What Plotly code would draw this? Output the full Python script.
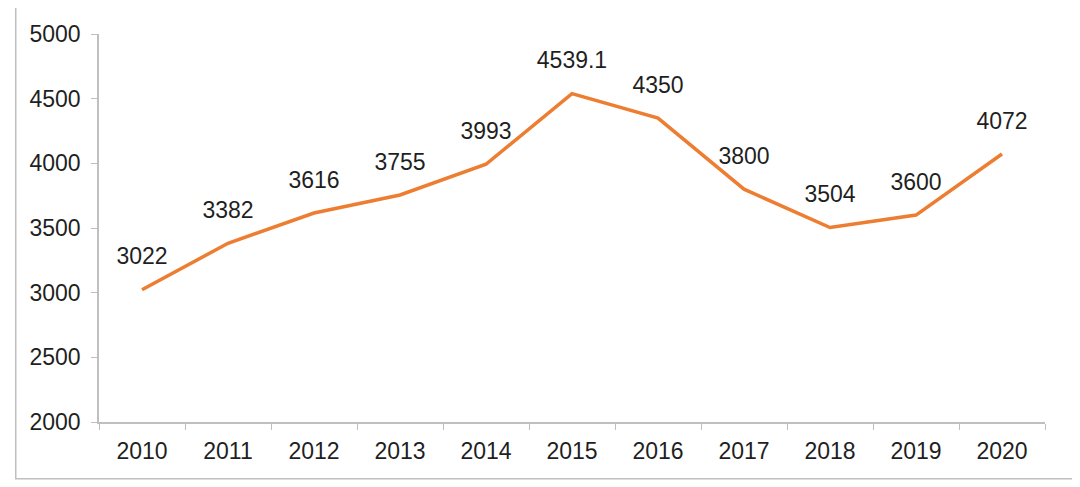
import plotly.graph_objects as go

years = ['2010', '2011', '2012', '2013', '2014', '2015', '2016', '2017', '2018', '2019', '2020']
values = [3022, 3382, 3616, 3755, 3993, 4539.1, 4350, 3800, 3504, 3600, 4072]
labels = ['3022', '3382', '3616', '3755', '3993', '4539.1', '4350', '3800', '3504', '3600', '4072']

fnt = dict(family='Liberation Sans, Arial, sans-serif', size=23, color='#1f1f1f')

fig = go.Figure()
fig.add_trace(go.Scatter(x=years, y=values, mode='lines',
                         line=dict(color='#ED7D31', width=3.5),
                         hoverinfo='x+y'))
# data labels above each point (invisible marker pushes the text up)
fig.add_trace(go.Scatter(x=years, y=values, mode='markers+text',
                         text=labels, textposition='top center',
                         textfont=fnt, cliponaxis=False,
                         marker=dict(size=30, color='rgba(0,0,0,0)'),
                         hoverinfo='skip'))

fig.update_layout(
    width=1080, height=487,
    margin=dict(l=91, r=43, t=26, b=73),
    plot_bgcolor='white', paper_bgcolor='white',
    showlegend=False,
    xaxis=dict(type='category', tickson='boundaries', ticks='outside',
               ticklen=6, tickcolor='#BFBFBF', showline=True,
               linecolor='#BFBFBF', linewidth=1.5, showgrid=False,
               tickfont=fnt, range=[-0.5, 10.5], ticklabelstandoff=8),
    yaxis=dict(range=[2000, 5000], dtick=500, ticks='outside', ticklen=6,
               tickcolor='#BFBFBF', showline=True, linecolor='#BFBFBF',
               linewidth=1.5, showgrid=False, zeroline=False,
               tickfont=fnt, ticklabelstandoff=6),
    shapes=[dict(type='rect', xref='paper', yref='paper',
                 x0=-0.088, x1=1.033, y0=-0.146, y1=1.075,
                 line=dict(color='#BFBFBF', width=1.5))],
)

fig.write_html('out.html')
